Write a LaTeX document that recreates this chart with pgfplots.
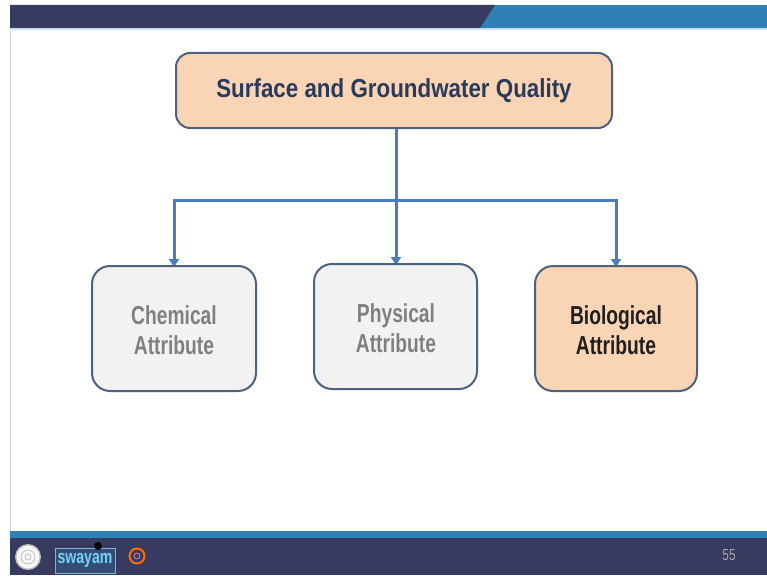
\documentclass[border=0pt]{standalone}
\usepackage{pgfplots}
\pgfplotsset{compat=1.18}
\usetikzlibrary{arrows.meta}
\usepackage{fontspec}
\setmainfont{Liberation Sans}
\newfontfamily\condA[FakeStretch=0.86]{Liberation Sans}
\newfontfamily\condB[FakeStretch=0.74]{Liberation Sans}
\definecolor{peach}{RGB}{249,212,181}
\definecolor{boxborder}{RGB}{78,98,128}
\definecolor{conn}{RGB}{74,126,187}
\definecolor{navy}{RGB}{42,58,90}
\definecolor{lgray}{RGB}{242,242,242}
\definecolor{tgray}{RGB}{128,128,128}
\definecolor{darkbar}{RGB}{55,59,95}
\definecolor{bblue}{RGB}{46,128,181}
\definecolor{paleline}{RGB}{205,220,238}
\begin{document}
\begin{tikzpicture}
\begin{axis}[
  scale only axis, width=767pt, height=575pt,
  xmin=0, xmax=767, ymin=0, ymax=575, y dir=reverse,
  hide axis, clip=false]
% background
\fill[white] (axis cs:0,0) rectangle (axis cs:767,575);
% slide border
\draw[gray!35, line width=1pt] (axis cs:10,30) -- (axis cs:10,531);
% top bar
\fill[bblue] (axis cs:480,5) rectangle (axis cs:767,28);
\fill[darkbar] (axis cs:10,5) -- (axis cs:495,5) -- (axis cs:480,28) -- (axis cs:10,28) -- cycle;
\fill[paleline] (axis cs:10,28) rectangle (axis cs:767,30);
% bottom bar
\fill[bblue] (axis cs:10,531) rectangle (axis cs:767,538);
\fill[darkbar] (axis cs:10,538) rectangle (axis cs:767,575);
% logos
\fill[gray!50] (axis cs:28,557) circle[radius=13pt];
\fill[white!94!gray] (axis cs:28,557) circle[radius=11.5pt];
\draw[gray!60, line width=0.6pt] (axis cs:28,557) circle[radius=7pt];
\draw[gray!60, line width=0.6pt] (axis cs:28,557) circle[radius=3pt];
\fill[darkbar!75!bblue] (axis cs:55,548) rectangle (axis cs:115,573);
\draw[bblue!60, line width=0.6pt] (axis cs:55,548) rectangle (axis cs:115,573);
\node[text=cyan!55!white, font=\condB\bfseries\fontsize{19}{19}\selectfont] at (axis cs:85,560) {swayam};
\fill[black] (axis cs:98,546) circle[radius=4pt];
\draw[orange!85!red, line width=2pt] (axis cs:137,556) circle[radius=7.5pt];
\draw[purple!50, line width=0.8pt] (axis cs:137,556) circle[radius=3pt];
\node[text=gray!70, font=\condB\fontsize{16}{16}\selectfont] at (axis cs:729,555) {55};
% connectors
\draw[conn, line width=3pt] (axis cs:396,128) -- (axis cs:396,200);
\draw[conn, line width=3pt, line cap=rect] (axis cs:174,200) -- (axis cs:616,200);
\draw[conn, line width=3pt, -{Triangle[length=8pt,width=10pt]}] (axis cs:174,200) -- (axis cs:174,267);
\draw[conn, line width=3pt, -{Triangle[length=8pt,width=10pt]}] (axis cs:396,200) -- (axis cs:396,265);
\draw[conn, line width=3pt, -{Triangle[length=8pt,width=10pt]}] (axis cs:616,200) -- (axis cs:616,267);
% top box
\draw[boxborder, fill=peach, line width=2pt, rounded corners=14pt] (axis cs:176,53) rectangle (axis cs:612,128);
\node[text=navy, font=\condA\bfseries\fontsize{26}{30}\selectfont] at (axis cs:394,91) {Surface and Groundwater Quality};
% lower boxes
\draw[boxborder, fill=lgray, line width=2pt, rounded corners=18pt] (axis cs:92,266) rectangle (axis cs:256,391);
\draw[boxborder, fill=lgray, line width=2pt, rounded corners=18pt] (axis cs:314,264) rectangle (axis cs:477,389);
\draw[boxborder, fill=peach, line width=2pt, rounded corners=18pt] (axis cs:535,266) rectangle (axis cs:697,391);
\node[text=tgray, align=center, font=\condB\bfseries\fontsize{26}{30}\selectfont] at (axis cs:174,330) {Chemical\\Attribute};
\node[text=tgray, align=center, font=\condB\bfseries\fontsize{26}{30}\selectfont] at (axis cs:396,328) {Physical\\Attribute};
\node[text=black!88, align=center, font=\condB\bfseries\fontsize{26}{30}\selectfont] at (axis cs:616,330) {Biological\\Attribute};
\end{axis}
\end{tikzpicture}
\end{document}
